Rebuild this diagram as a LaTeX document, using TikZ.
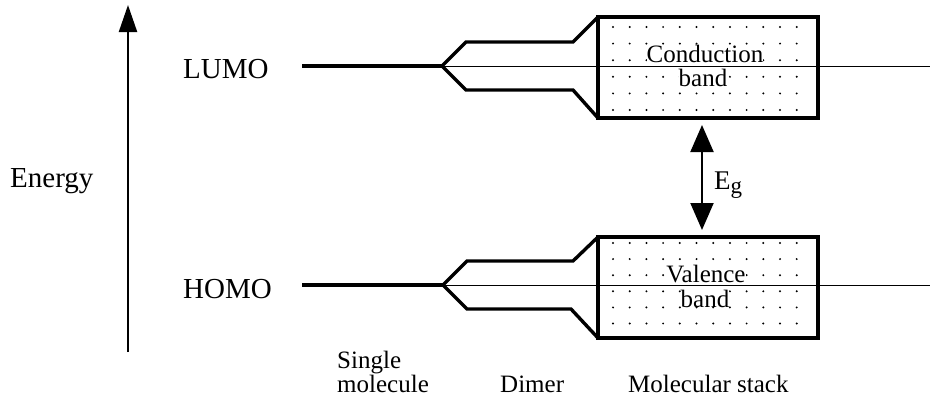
\documentclass[tikz,border=0pt]{standalone}
\usepackage{fontspec}
\setmainfont{Liberation Serif}
\usetikzlibrary{arrows.meta}
\begin{document}
\begin{tikzpicture}[x=1pt,y=-1pt,
  thickln/.style={line width=3.4pt, line join=miter, line cap=butt},
  thinln/.style={line width=0.9pt},
  lbl/.style={anchor=base west, inner sep=0pt, font=\fontsize{29}{29}\selectfont},
  sublbl/.style={anchor=base west, inner sep=0pt, font=\fontsize{25}{25}\selectfont},
  bandtxt/.style={anchor=base, inner sep=0pt, fill=white, font=\fontsize{25}{25}\selectfont},
  axisarrow/.style={line width=2.2pt, -{Triangle[width=18pt,length=27pt]}},
  gaparrow/.style={line width=2pt, {Triangle[width=23pt,length=27pt]}-{Triangle[width=23pt,length=27pt]}}
]
\useasboundingbox (0,0) rectangle (930,402);
\fill[white] (0,0) rectangle (930,402);

% energy axis
\coordinate (ebot) at (128,352);
\coordinate (etop) at (128,5);
\draw[axisarrow] (ebot) -- (etop);
\node[lbl] (energy) at (10,187) {Energy};
\node[lbl] (lumo) at (183,78) {LUMO};
\node[lbl] (homo) at (183,298) {HOMO};

% ---------- dots ----------
\foreach \i in {0,...,11}{
  \foreach \j in {0,...,5}{
    \fill (613+16.7*\i, 27+16.6*\j) circle (1.1);
    \fill (613+16.7*\i, 243+16.1*\j) circle (1.1);
  }
}

% ---------- LUMO level ----------
\coordinate (lstart) at (302,66);
\coordinate (lfork) at (442,66);
\coordinate (lu1) at (466,42);
\coordinate (lu2) at (573,42);
\coordinate (lbtl) at (598,17);
\coordinate (lbbr) at (818,118);
\coordinate (lbbl) at (598,118);
\coordinate (ll1) at (466,90);
\coordinate (ll2) at (573,90);
\coordinate (lend) at (930,66);

\node[bandtxt] (cond) at (705,62) {Conduction};
\node[bandtxt] (cband) at (703,86) {band};

\draw[thinln] (lfork) -- (lend);
\draw[thickln] (lstart) -- (lfork);
\draw[thickln] (lbtl) -- (lu2) -- (lu1) -- (lfork) -- (ll1) -- (ll2) -- (lbbl);
\draw[thickln] (lbtl) rectangle (lbbr);

% ---------- HOMO level ----------
\coordinate (hstart) at (302,285);
\coordinate (hfork) at (443,285);
\coordinate (hu1) at (467,261);
\coordinate (hu2) at (573,261);
\coordinate (hbtl) at (598,237);
\coordinate (hbbr) at (818,338);
\coordinate (hbbl) at (598,338);
\coordinate (hl1) at (467,309);
\coordinate (hl2) at (571,309);
\coordinate (hend) at (930,285);

\node[bandtxt] (val) at (706,282) {Valence};
\node[bandtxt] (vband) at (705,307) {band};

\draw[thinln] (hfork) -- (hend);
\draw[thickln] (hstart) -- (hfork);
\draw[thickln] (hbtl) -- (hu2) -- (hu1) -- (hfork) -- (hl1) -- (hl2) -- (hbbl);
\draw[thickln] (hbtl) rectangle (hbbr);

% ---------- band gap ----------
\coordinate (gtop) at (702,125);
\coordinate (gbot) at (702,230);
\draw[gaparrow] (gtop) -- (gbot);
\node[anchor=base west, inner sep=0pt, font=\fontsize{27}{27}\selectfont] (eg) at (714,189) {E\raisebox{-4pt}{\fontsize{23}{23}\selectfont g}};

% ---------- bottom labels ----------
\node[sublbl] (single) at (337,368) {Single};
\node[sublbl] (molecule) at (337,392) {molecule};
\node[sublbl] (dimer) at (500,392) {Dimer};
\node[sublbl] (stack) at (628,392) {Molecular stack};
\end{tikzpicture}
\end{document}
